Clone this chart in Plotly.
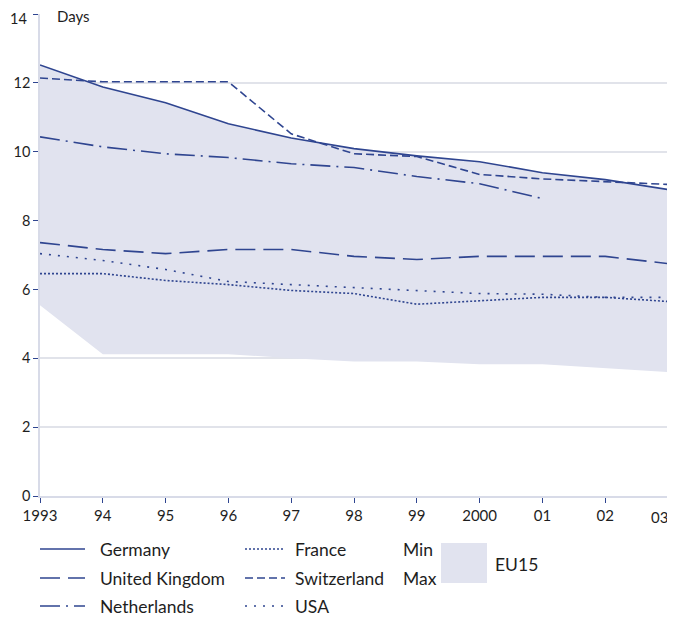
import plotly.graph_objects as go

years = [1993, 1994, 1995, 1996, 1997, 1998, 1999, 2000, 2001, 2002, 2003]
tick_labels = ["1993", "94", "95", "96", "97", "98", "99", "2000", "01", "02", "03"]
y_ticks = [0, 2, 4, 6, 8, 10, 12, 14]

germany = [12.52, 11.88, 11.42, 10.81, 10.40, 10.09, 9.88, 9.71, 9.39, 9.19, 8.90]
switzerland = [12.14, 12.03, 12.03, 12.03, 10.52, 9.94, 9.86, 9.34, 9.21, 9.13, 9.05]
netherlands = [10.43, 10.14, 9.94, 9.83, 9.65, 9.54, 9.28, 9.07, 8.64, None, None]
uk = [7.36, 7.16, 7.04, 7.16, 7.16, 6.96, 6.87, 6.96, 6.96, 6.96, 6.75]
france = [6.46, 6.46, 6.26, 6.14, 5.97, 5.88, 5.57, 5.68, 5.77, 5.77, 5.65]
usa = [7.04, 6.84, 6.58, 6.23, 6.14, 6.06, 5.97, 5.88, 5.86, 5.77, 5.77]
eu15_min = [5.54, 4.12, 4.12, 4.12, 4.00, 3.91, 3.91, 3.83, 3.83, 3.71, 3.60]
eu15_max = germany

LINE = "#2f4590"
BAND = "#e1e3ef"
GRID = "#e1e3ea"
FONT = "Lato"
TXT = "#1e1e1e"

series = [
    ("Germany", germany, "solid"),
    ("United Kingdom", uk, "20px,8px"),
    ("Netherlands", netherlands, "20px,6px,2px,6px"),
    ("France", france, "2px,2px"),
    ("Switzerland", switzerland, "8px,4px"),
    ("USA", usa, "2px,7px"),
]

fig = go.Figure()
fig.add_trace(go.Scatter(x=years, y=eu15_min, mode="lines", line=dict(width=0),
                         showlegend=False, hoverinfo="skip"))
fig.add_trace(go.Scatter(x=years, y=eu15_max, mode="lines", line=dict(width=0),
                         fill="tonexty", fillcolor=BAND, showlegend=False, hoverinfo="skip"))
for name, vals, dash in series:
    fig.add_trace(go.Scatter(x=years, y=vals, mode="lines", name=name,
                             line=dict(color=LINE, width=1.6, dash=dash),
                             showlegend=False))

# page offset of the figure div (body margin) is 8px
OFF = 8
W, H = 675 - OFF, 620 - OFF
# plot-area geometry in screen pixels
L, R, T, B = 40, 668, 14, 496
def px(x): return (x - L) / (R - L)
def py(y): return (B - y) / (B - T)

shapes = [dict(type="line", xref="paper", yref="paper", x0=1, x1=1, y0=0, y1=py(38),
               line=dict(color="#d8dbe8", width=1.5))]
annotations = [dict(text="Days", xref="paper", yref="paper", x=px(55), y=py(16),
                    xanchor="left", yanchor="middle", showarrow=False,
                    font=dict(family=FONT, size=15, color=TXT))]

# edge tick labels drawn as annotations so they stay fully inside the page
ticktext = tick_labels[:-1] + [""]
annotations.append(dict(text=tick_labels[-1], xref="paper", yref="paper", x=px(670),
                        y=py(517), xanchor="right", yanchor="middle", showarrow=False,
                        font=dict(family=FONT, size=15, color=TXT)))
y_ticktext = [str(v) for v in y_ticks[:-1]] + [""]
annotations.append(dict(text=str(y_ticks[-1]), xref="paper", yref="paper", x=px(29),
                        y=py(8), xanchor="right", yanchor="top", showarrow=False,
                        font=dict(family=FONT, size=14.5, color=TXT)))

LS = 17.5
legend_rows = [549, 578, 606]
cols = [(40, 85, 98), (245, 285, 293)]
for i, (name, vals, dash) in enumerate(series):
    c = cols[i // 3]
    r = legend_rows[i % 3]
    shapes.append(dict(type="line", xref="paper", yref="paper",
                       x0=px(c[0]), x1=px(c[1]), y0=py(r), y1=py(r),
                       line=dict(color=LINE, width=1.6, dash=dash)))
    annotations.append(dict(text=name, xref="paper", yref="paper", x=px(c[2]), y=py(r),
                            xanchor="left", yanchor="middle", showarrow=False,
                            font=dict(family=FONT, size=LS, color=TXT)))

shapes.append(dict(type="rect", xref="paper", yref="paper", x0=px(441), x1=px(487),
                   y0=py(543), y1=py(583), fillcolor=BAND, line=dict(width=0)))
for txt, r in [("Min", 549), ("Max", 578)]:
    annotations.append(dict(text=txt, xref="paper", yref="paper", x=px(401), y=py(r),
                            xanchor="left", yanchor="middle", showarrow=False,
                            font=dict(family=FONT, size=LS, color=TXT)))
annotations.append(dict(text="EU15", xref="paper", yref="paper", x=px(493), y=py(564),
                        xanchor="left", yanchor="middle", showarrow=False,
                        font=dict(family=FONT, size=LS, color=TXT)))

fig.update_layout(
    width=W, height=H,
    margin=dict(l=L - OFF, r=675 - R, t=T - OFF, b=620 - B, autoexpand=False),
    plot_bgcolor="white", paper_bgcolor="white",
    font=dict(family=FONT, size=15, color=TXT),
    shapes=shapes, annotations=annotations,
    xaxis=dict(range=[1993, 2003], tickvals=years, ticktext=ticktext,
               automargin=False, ticklabeloverflow="allow",
               showgrid=False, zeroline=False, showline=True, linecolor="#d8dbe8",
               linewidth=1.5, ticks="outside", ticklen=5, tickcolor=LINE, tickwidth=1,
               tickfont=dict(family=FONT, size=15, color=TXT)),
    yaxis=dict(range=[0, 14], tickvals=y_ticks, ticktext=y_ticktext,
               automargin=False, ticklabeloverflow="allow",
               showgrid=True, gridcolor=GRID, gridwidth=1.5, zeroline=False,
               showline=True, linecolor="#d8dbe8", linewidth=1.5,
               ticks="outside", ticklen=5, tickcolor=LINE, tickwidth=1,
               tickfont=dict(family=FONT, size=14.5, color=TXT)),
)

fig.write_html("out.html")
